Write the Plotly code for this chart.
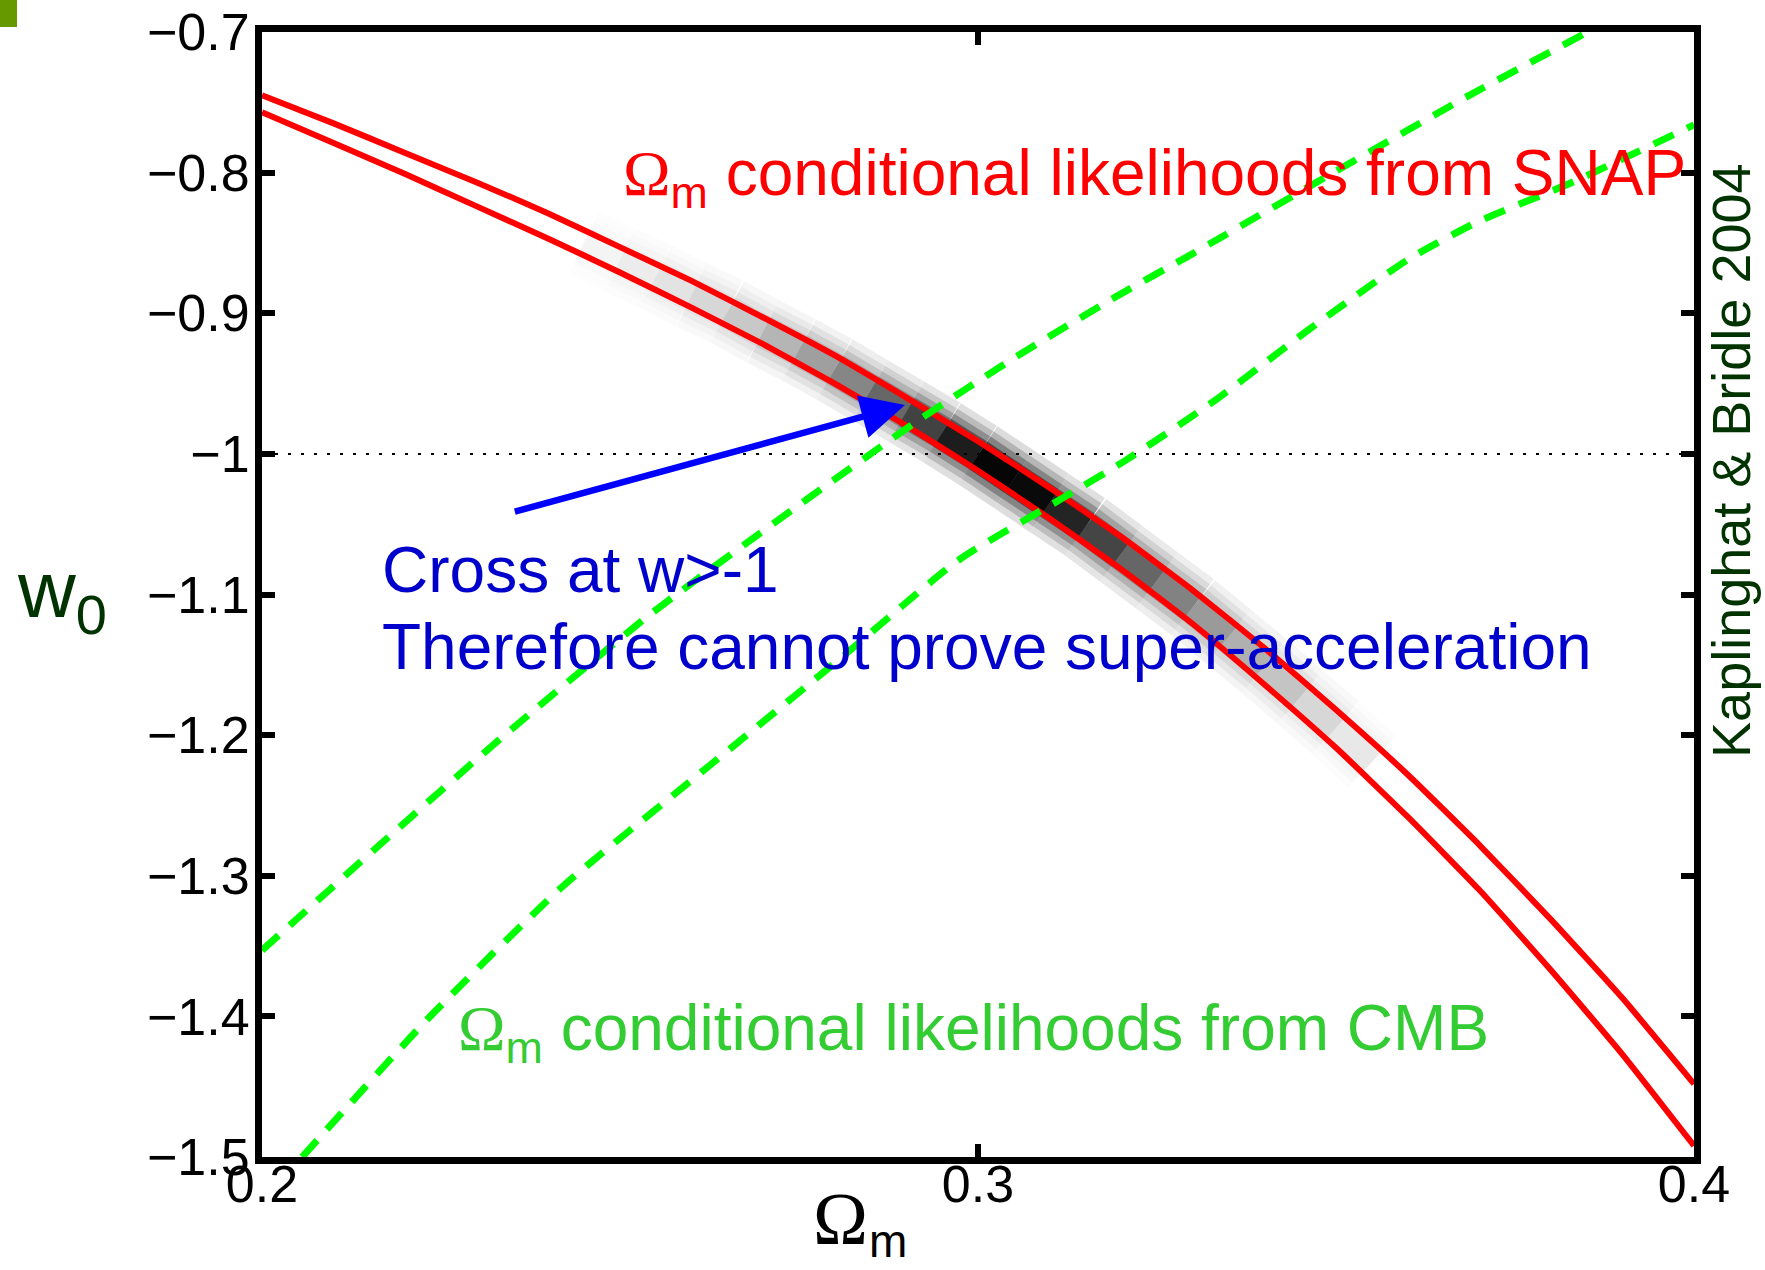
import plotly.graph_objects as go

# ---------------- data ----------------
# SNAP conditional-likelihood contours (red)
snap_om = [0.200, 0.210, 0.220, 0.230, 0.240, 0.250, 0.260, 0.270, 0.280, 0.290, 0.300,
           0.310, 0.320, 0.330, 0.340, 0.350, 0.360, 0.370, 0.380, 0.390, 0.400]
snap_upper_w = [-0.745, -0.765, -0.786, -0.807, -0.829, -0.853, -0.877, -0.903, -0.930, -0.960, -0.991,
                -1.024, -1.059, -1.097, -1.138, -1.182, -1.228, -1.278, -1.331, -1.387, -1.448]
snap_lower_w = [-0.757, -0.779, -0.801, -0.824, -0.847, -0.871, -0.896, -0.922, -0.950, -0.980, -1.012,
                -1.046, -1.082, -1.121, -1.164, -1.209, -1.258, -1.310, -1.367, -1.427, -1.492]

# CMB conditional-likelihood contours (green dashed)
cmb_upper_om = [0.200, 0.216, 0.2325, 0.254, 0.274, 0.292, 0.305, 0.319, 0.3295, 0.351, 0.369, 0.387]
cmb_upper_w = [-1.353, -1.280, -1.206, -1.115, -1.040, -0.975, -0.932, -0.889, -0.859, -0.796, -0.744, -0.695]
cmb_lower_om = [0.2056, 0.2233, 0.2419, 0.2605, 0.281, 0.2973, 0.3113, 0.3205, 0.3331, 0.3461, 0.360, 0.3694, 0.3834, 0.400]
cmb_lower_w = [-1.500, -1.401, -1.308, -1.230, -1.1445, -1.0755, -1.033, -1.005, -0.962, -0.912, -0.862, -0.836, -0.806, -0.766]

# joint likelihood ridge (grey band): position and relative density
band_om = [0.245, 0.250, 0.255, 0.260, 0.265, 0.270, 0.275, 0.280, 0.285, 0.290, 0.295, 0.300,
           0.305, 0.310, 0.315, 0.320, 0.325, 0.330, 0.335, 0.340, 0.345, 0.350, 0.355]
band_w = [-0.850, -0.862, -0.874, -0.887, -0.899, -0.913, -0.926, -0.940, -0.955, -0.970, -0.985, -1.001,
          -1.018, -1.035, -1.052, -1.071, -1.090, -1.109, -1.130, -1.151, -1.173, -1.195, -1.219]
band_density = [0.03, 0.06, 0.09, 0.13, 0.18, 0.25, 0.33, 0.42, 0.53, 0.66, 0.82, 0.95,
                1.00, 0.92, 0.80, 0.66, 0.54, 0.44, 0.35, 0.27, 0.19, 0.12, 0.06]

# reference line w = -1
ref_om = [0.2, 0.4]
ref_w = [-1.0, -1.0]

# arrow (tail -> tip)
arrow_tail = (0.2351, -1.0414)
arrow_tip = (0.2898, -0.9653)

# axes
x_range = [0.2, 0.4]
y_range = [-1.5, -0.7]
x_ticks = [0.2, 0.3, 0.4]
x_ticktext = ["0.2", "0.3", "0.4"]
y_ticks = [-0.7, -0.8, -0.9, -1.0, -1.1, -1.2, -1.3, -1.4, -1.5]
y_ticktext = ["\u22120.7", "\u22120.8", "\u22120.9", "\u22121", "\u22121.1", "\u22121.2", "\u22121.3", "\u22121.4", "\u22121.5"]

# ---------------- styles ----------------
RED = "#ff0000"
GREEN_LINE = "#00ff00"
GREEN_TEXT = "#33cc33"
BLUE_TEXT = "#0000cc"
BLUE_ARROW = "#0000ff"
DARK_GREEN = "#003300"
SANS = "Liberation Sans, Arial, Helvetica, sans-serif"
SERIF = "Liberation Serif, Times New Roman, serif"

fig = go.Figure()

# grey likelihood band: several blurred layers, light/wide to dark/narrow
layers = [(70, 0.14), (57, 0.30), (45, 0.50), (33, 0.75), (22, 1.0)]
for width, factor in layers:
    for i in range(len(band_om) - 1):
        d = 0.5 * (band_density[i] + band_density[i + 1])
        g = int(round(255 * (1 - d * factor)))
        fig.add_trace(go.Scatter(
            x=[band_om[i], band_om[i + 1]], y=[band_w[i], band_w[i + 1]],
            mode="lines", line=dict(color=f"rgb({g},{g},{g})", width=width),
            hoverinfo="skip", showlegend=False))

# dotted reference line
fig.add_trace(go.Scatter(x=ref_om, y=ref_w, mode="lines",
                         line=dict(color="black", width=2, dash="3px,10px"),
                         showlegend=False, hoverinfo="skip"))

# red SNAP lines
for yw in (snap_upper_w, snap_lower_w):
    fig.add_trace(go.Scatter(x=snap_om, y=yw, mode="lines",
                             line=dict(color=RED, width=6, shape="spline", smoothing=0.4),
                             showlegend=False))

# green CMB dashed lines
for xo, yw in ((cmb_upper_om, cmb_upper_w), (cmb_lower_om, cmb_lower_w)):
    fig.add_trace(go.Scatter(x=xo, y=yw, mode="lines",
                             line=dict(color=GREEN_LINE, width=7, dash="22px,15px",
                                       shape="spline", smoothing=0.6),
                             showlegend=False))

annotations = [
    # arrow
    dict(x=arrow_tip[0], y=arrow_tip[1], ax=arrow_tail[0], ay=arrow_tail[1],
         xref="x", yref="y", axref="x", ayref="y", text="", showarrow=True,
         arrowhead=2, arrowsize=1.35, arrowwidth=6.5, arrowcolor=BLUE_ARROW),
    # red label
    dict(x=0.2501, y=-0.8031, xref="x", yref="y", xanchor="left", yanchor="middle",
         showarrow=False,
         text='<span style="font-family:Liberation Serif">\u03a9</span><sub>m</sub> conditional likelihoods from SNAP',
         font=dict(family=SANS, size=64, color=RED)),
    # green label
    dict(x=0.2271, y=-1.4110, xref="x", yref="y", xanchor="left", yanchor="middle",
         showarrow=False,
         text='<span style="font-family:Liberation Serif">\u03a9</span><sub>m</sub> conditional likelihoods from CMB',
         font=dict(family=SANS, size=64, color=GREEN_TEXT)),
    # blue labels
    dict(x=0.2165, y=-1.0826, xref="x", yref="y", xanchor="left", yanchor="middle",
         showarrow=False, text="Cross at w>-1",
         font=dict(family=SANS, size=64, color=BLUE_TEXT)),
    dict(x=0.2165, y=-1.1374, xref="x", yref="y", xanchor="left", yanchor="middle",
         showarrow=False, text="Therefore cannot prove super-acceleration",
         font=dict(family=SANS, size=64, color=BLUE_TEXT)),
    # credit
    dict(x=1.0258, y=0.6187, xref="paper", yref="paper", xanchor="center", yanchor="middle",
         showarrow=False, text="Kaplinghat &amp; Bridle 2004", textangle=-90,
         font=dict(family=SANS, size=54, color=DARK_GREEN)),
    # y title
    dict(x=-0.1725, y=0.4990, xref="paper", yref="paper", xanchor="left", yanchor="middle",
         showarrow=False, text="w<sub>0</sub>",
         font=dict(family=SANS, size=80, color=DARK_GREEN)),
    # x title: Omega and its subscript
    dict(x=0.3834, y=-0.0551, xref="paper", yref="paper", xanchor="left", yanchor="middle",
         showarrow=False, text="\u03a9",
         font=dict(family=SERIF, size=74, color="black")),
    dict(x=0.4225, y=-0.0745, xref="paper", yref="paper", xanchor="left", yanchor="middle",
         showarrow=False, text="m",
         font=dict(family=SANS, size=46, color="black")),
]

axis_common = dict(showline=True, linewidth=7, linecolor="black", mirror="ticks",
                   ticks="inside", ticklen=13, tickwidth=6, tickcolor="black",
                   showgrid=False, zeroline=False, automargin=False,
                   tickfont=dict(family=SANS, size=52, color="black"))

fig.update_layout(
    width=1765, height=1270,
    margin=dict(l=262, r=71, t=32, b=113, pad=0, autoexpand=False),
    paper_bgcolor="white", plot_bgcolor="white",
    showlegend=False,
    xaxis=dict(range=x_range, tickvals=x_ticks, ticktext=x_ticktext,
               ticklabelstandoff=-24, **axis_common),
    yaxis=dict(range=y_range, tickvals=y_ticks, ticktext=y_ticktext,
               ticklabelstandoff=-5, **axis_common),
    annotations=annotations,
    shapes=[dict(type="rect", xref="paper", yref="paper",
                 x0=-0.18296, x1=-0.17109, y0=1.00444, y1=1.02844,
                 fillcolor="#669900", line=dict(width=0))],
)

fig.write_html("out.html",
               config={"displayModeBar": False},
               post_script="document.body.style.margin='0px';document.body.style.overflow='hidden';")
